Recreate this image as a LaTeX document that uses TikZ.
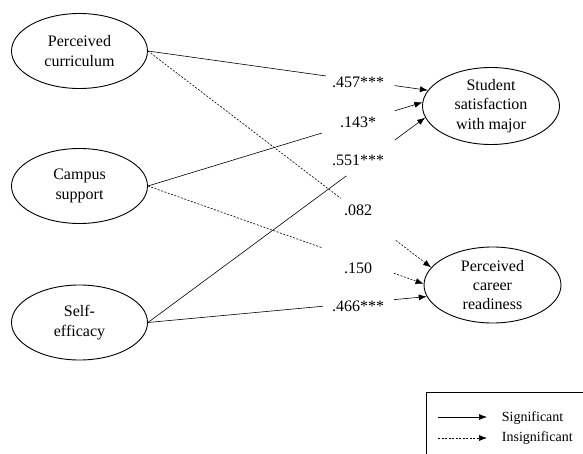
\documentclass[tikz,border=0pt]{standalone}
\usepackage{fontspec}
\setmainfont{Liberation Serif}
\usetikzlibrary{arrows.meta, shapes.geometric}

\begin{document}
\begin{tikzpicture}[x=1pt, y=1pt,
  var/.style={ellipse, draw, line width=0.9pt, minimum width=136pt,
    minimum height=75pt, inner sep=0pt, align=center,
    font=\fontsize{16}{19.2}\selectfont},
  coef/.style={font=\fontsize{16}{19.2}\selectfont, inner sep=0pt},
  sig/.style={line width=0.6pt},
  insig/.style={line width=0.6pt, dash pattern=on 2pt off 1.5pt},
  tip/.style={-{Latex[length=8pt, width=6pt]}}
]
\path[use as bounding box, clip] (0,0) rectangle (583,453);

% Predictors
\node[var] (curr) at (79.5,402) {Perceived\\curriculum};
\node[var] (camp) at (79.5,267) {Campus\\support};
\node[var] (self) at (79.5,130.5) {Self-\\efficacy};

% Outcomes
\node[var, minimum width=137pt, minimum height=77pt] (sat) at (491,347) {Student\\satisfaction\\with major};
\node[var, minimum width=137pt, minimum height=76pt] (car) at (492.5,168) {Perceived\\career\\readiness};

% Path coefficients
\node[coef] (l457) at (358,370.3) {.457***};
\node[coef] (l143) at (358,330.3) {.143*};
\node[coef] (l551) at (358,293) {.551***};
\node[coef] (l082) at (358,242.3) {.082};
\node[coef] (l150) at (358,184.7) {.150};
\node[coef] (l466) at (358,147) {.466***};

% Perceived curriculum
\draw[sig, shorten >=103pt] (curr.east) -- (sat.166);
\draw[sig, tip, shorten <=249pt] (curr.east) -- (sat.166);
\draw[insig, shorten >=114pt] (curr.east) -- (car.164);
\draw[insig, tip, shorten <=312pt] (curr.east) -- (car.164);

% Campus support
\draw[sig, shorten >=105pt] (camp.east) -- (sat.177);
\draw[sig, tip, shorten <=258pt] (camp.east) -- (sat.177);
\draw[insig, shorten >=108pt] (camp.east) -- (car.179);
\draw[insig, tip, shorten <=261pt] (camp.east) -- (car.179);

% Self-efficacy
\draw[sig, shorten >=98pt] (self.east) -- (sat.190);
\draw[sig, tip, shorten <=307pt] (self.east) -- (sat.190);
\draw[sig, shorten >=104pt] (self.east) -- (car.190);
\draw[sig, tip, shorten <=247pt] (self.east) -- (car.190);

% Legend
\draw[line width=0.8pt] (426.7,-20) rectangle (600,60.7);
\coordinate (s0) at (438,36);
\coordinate (s1) at (487,36);
\coordinate (i0) at (438,15);
\coordinate (i1) at (487,15);
\draw[sig, tip] (s0) -- (s1);
\draw[insig, tip] (i0) -- (i1);
\node[anchor=base west, inner sep=0pt, font=\fontsize{14}{16}\selectfont] (sigtxt) at (501.7,31.4) {Significant};
\node[anchor=base west, inner sep=0pt, font=\fontsize{14}{16}\selectfont] (insigtxt) at (501.7,11.4) {Insignificant};

\end{tikzpicture}
\end{document}
